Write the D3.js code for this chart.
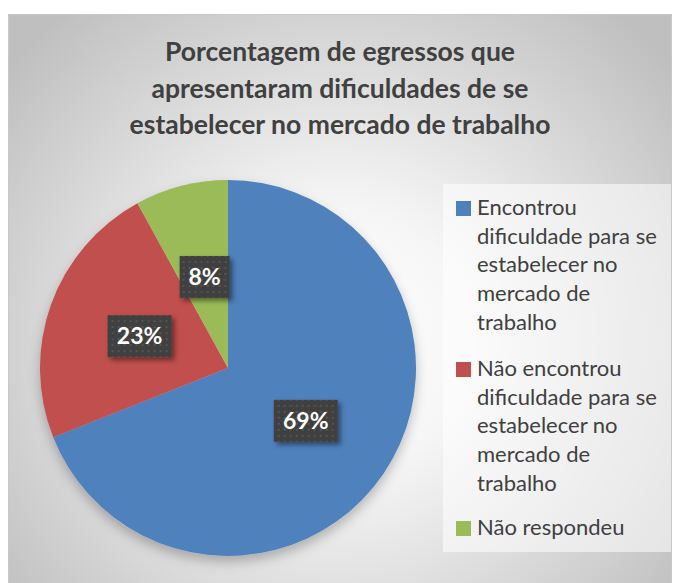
<!DOCTYPE html>
<html>
<head>
<meta charset="utf-8">
<script src="https://cdn.jsdelivr.net/npm/d3@7"></script>
<style>
	body { margin: 0; background: #fff; }
	svg { display: block; font-family: Lato, "Open Sans", sans-serif; }
	.title { font-weight: bold; fill: #404040; font-size: 26.5px; }
	.legend text { fill: #404040; font-size: 22px; }
	.lbl text { fill: #fff; font-weight: bold; font-size: 23px; }
</style>
</head>
<body>
<script>
	var categories = [
		["Encontrou", "dificuldade para se", "estabelecer no", "mercado de", "trabalho"],
		["Não encontrou", "dificuldade para se", "estabelecer no", "mercado de", "trabalho"],
		["Não respondeu"]
	];
	var values = [69, 23, 8];
	var colors = ["#4F81BD", "#C0504D", "#9BBB59"];
	var titleLines = ["Porcentagem de egressos que", "apresentaram dificuldades de se", "estabelecer no mercado de trabalho"];

	var w = 675, h = 583;
	var cx = 228, cy = 368, r = 188;

	var svg = d3.select("body").append("svg")
		.attr("width", w)
		.attr("height", h);

	var defs = svg.append("defs");
	var grad = defs.append("radialGradient")
		.attr("id", "bg")
		.attr("gradientUnits", "userSpaceOnUse")
		.attr("cx", 340).attr("cy", 340).attr("r", 430);
	grad.append("stop").attr("offset", "0%").attr("stop-color", "#ffffff");
	grad.append("stop").attr("offset", "30%").attr("stop-color", "#f6f6f6");
	grad.append("stop").attr("offset", "100%").attr("stop-color", "#bfbfbf");

	var shadow = defs.append("filter").attr("id", "shadow")
		.attr("x", "-20%").attr("y", "-20%").attr("width", "140%").attr("height", "140%");
	shadow.append("feDropShadow").attr("dx", 0).attr("dy", 6).attr("stdDeviation", 6)
		.attr("flood-color", "#000").attr("flood-opacity", 0.25);

	var boxShadow = defs.append("filter").attr("id", "boxshadow")
		.attr("x", "-30%").attr("y", "-30%").attr("width", "160%").attr("height", "160%");
	boxShadow.append("feDropShadow").attr("dx", 3).attr("dy", 3).attr("stdDeviation", 2.5)
		.attr("flood-color", "#000").attr("flood-opacity", 0.45);

	var dots = defs.append("pattern").attr("id", "dots")
		.attr("patternUnits", "userSpaceOnUse").attr("width", 6).attr("height", 6);
	dots.append("rect").attr("width", 6).attr("height", 6).attr("fill", "#404040");
	dots.append("rect").attr("x", 2).attr("y", 2).attr("width", 2).attr("height", 2).attr("fill", "#545454");

	// chart area
	svg.append("rect")
		.attr("x", 8.5).attr("y", 14.5)
		.attr("width", 663).attr("height", 570)
		.attr("fill", "url(#bg)")
		.attr("stroke", "#c8c8c8");

	svg.append("g").selectAll("text")
		.data(titleLines)
		.enter().append("text")
		.attr("class", "title")
		.attr("x", 340)
		.attr("y", function (d, i) { return 61 + i * 36.5; })
		.attr("text-anchor", "middle")
		.text(function (d) { return d; });

	// legend
	var legend = svg.append("g").attr("class", "legend");
	legend.append("rect")
		.attr("x", 443).attr("y", 184)
		.attr("width", 228).attr("height", 368)
		.attr("fill", "#ffffff").attr("fill-opacity", 0.55);

	var lineH = 28.7;
	var starts = [215, 376, 535];
	categories.forEach(function (lines, i) {
		var g = legend.append("g");
		g.append("rect")
			.attr("x", 456).attr("y", starts[i] - 14)
			.attr("width", 15).attr("height", 15)
			.attr("fill", colors[i]);
		g.selectAll("text")
			.data(lines)
			.enter().append("text")
			.attr("x", 477)
			.attr("y", function (d, j) { return starts[i] + j * lineH; })
			.text(function (d) { return d; });
	});

	// pie
	var pie = d3.pie().sort(null).value(function (d) { return d; });
	var arc = d3.arc().innerRadius(0).outerRadius(r);
	var arcs = pie(values);

	var pg = svg.append("g").attr("transform", "translate(" + cx + "," + cy + ")");
	pg.append("g").attr("filter", "url(#shadow)")
		.selectAll("path")
		.data(arcs)
		.enter().append("path")
		.attr("d", arc)
		.attr("fill", function (d, i) { return colors[i]; });

	var lbl = pg.selectAll("g.lbl")
		.data(arcs)
		.enter().append("g")
		.attr("class", "lbl")
		.attr("transform", function (d) { return "translate(" + arc.centroid(d) + ")"; });

	lbl.append("rect")
		.attr("x", function (d) { return d.data < 10 ? -25 : -32; })
		.attr("y", -21)
		.attr("width", function (d) { return d.data < 10 ? 50 : 64; })
		.attr("height", 42)
		.attr("fill", "url(#dots)")
		.attr("filter", "url(#boxshadow)");

	lbl.append("text")
		.attr("text-anchor", "middle")
		.attr("dy", "0.36em")
		.text(function (d) { return d.data + "%"; });
</script>
</body>
</html>
